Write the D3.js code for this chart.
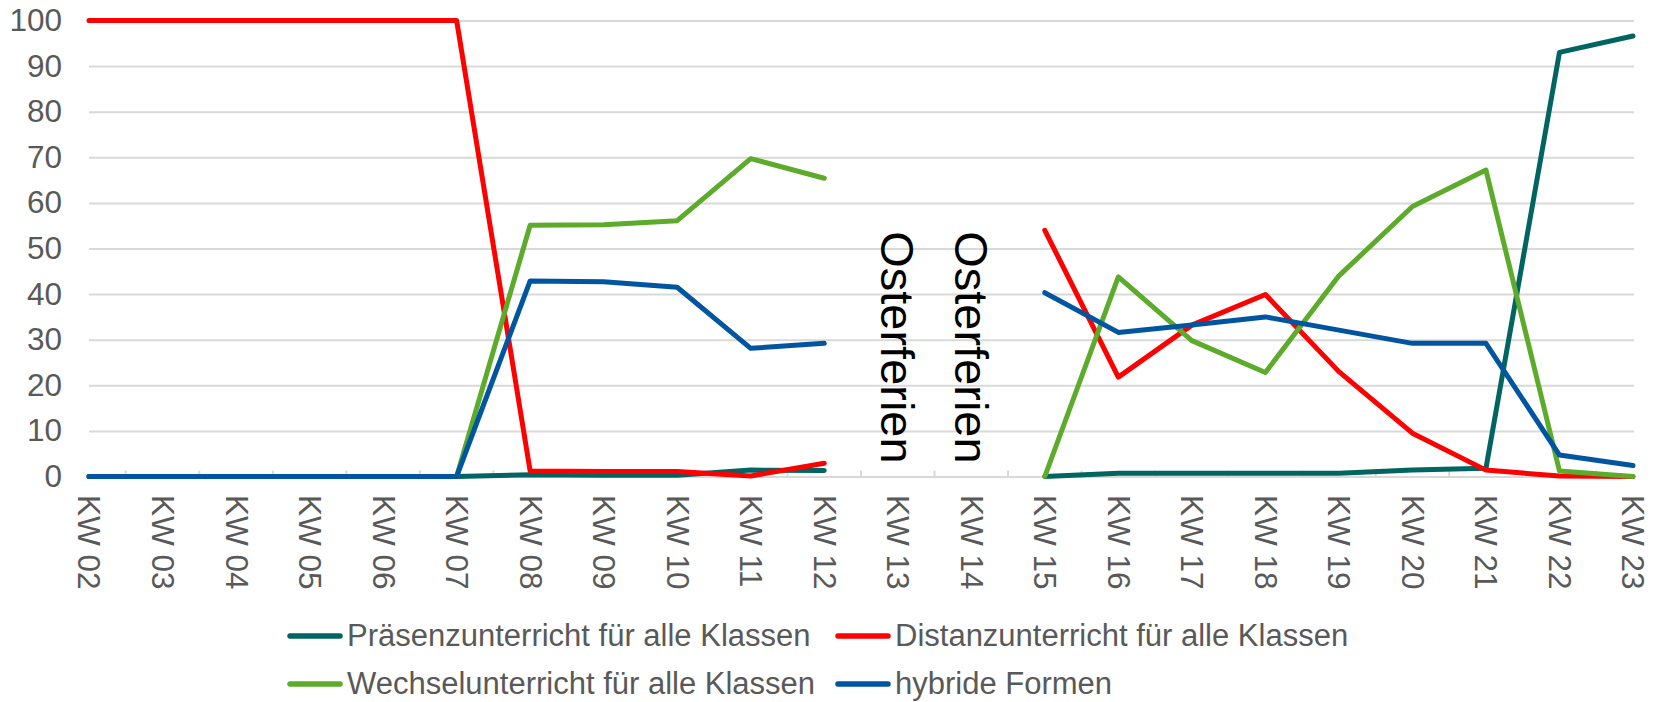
<!DOCTYPE html>
<html>
<head>
<meta charset="utf-8">
<script src="https://cdn.jsdelivr.net/npm/d3@7"></script>
<style>
    body { margin: 0; background: #fff; }
    svg text { font-family: "Liberation Sans", Arial, sans-serif; }
</style>
</head>
<body>
<svg id="chart" width="1659" height="702"></svg>
<script>
// Kalenderwochen
var weeks = ["KW 02", "KW 03", "KW 04", "KW 05", "KW 06", "KW 07", "KW 08", "KW 09",
    "KW 10", "KW 11", "KW 12", "KW 13", "KW 14", "KW 15", "KW 16", "KW 17",
    "KW 18", "KW 19", "KW 20", "KW 21", "KW 22", "KW 23"];

// Anteile in Prozent, null = Osterferien
var praesenz = [0, 0, 0, 0, 0, 0, 0.4, 0.3, 0.3, 1.4, 1.3, null, null,
    0, 0.7, 0.7, 0.7, 0.7, 1.4, 1.8, 93.0, 96.6];
var distanz = [100, 100, 100, 100, 100, 100, 1.2, 1.1, 1.1, 0.1, 2.9, null, null,
    54.0, 21.8, 33.2, 39.9, 23.0, 9.5, 1.4, 0.1, 0];
var wechsel = [0, 0, 0, 0, 0, 0, 55.1, 55.2, 56.1, 69.7, 65.4, null, null,
    0, 43.8, 29.8, 22.8, 44.0, 59.2, 67.2, 1.2, 0];
var hybrid = [0, 0, 0, 0, 0, 0, 42.9, 42.7, 41.5, 28.1, 29.2, null, null,
    40.3, 31.6, 33.2, 35.0, 32.1, 29.2, 29.2, 4.7, 2.4];

var seriesNames = ["Präsenzunterricht für alle Klassen", "Distanzunterricht für alle Klassen",
    "Wechselunterricht für alle Klassen", "hybride Formen"];
var seriesColors = ["#006461", "#FF0000", "#5CAB2B", "#0055A0"];
var seriesValues = [praesenz, distanz, wechsel, hybrid];

var yTicks = [0, 10, 20, 30, 40, 50, 60, 70, 80, 90, 100];

var holidayWeeks = ["KW 13", "KW 14"];
var holidayLabel = "Osterferien";

var svg = d3.select("#chart");

var x = d3.scalePoint().domain(weeks).range([89, 1633]);
var y = d3.scaleLinear().domain([0, 100]).range([476.5, 20.5]);

var plotLeft = x(weeks[0]);
var plotRight = x(weeks[weeks.length - 1]) + 1;

// Gitterlinien
svg.append("g")
    .attr("transform", "translate(" + plotLeft + ",0)")
    .call(d3.axisLeft(y).tickValues(yTicks).tickSize(-(plotRight - plotLeft)).tickFormat(""))
    .call(function(g) {
        g.select(".domain").remove();
        g.selectAll("line").attr("stroke", "#D9D9D9").attr("stroke-width", 2);
    });

// kleine Striche zwischen den Kategorien
var midpoints = weeks.slice(1).map(function(w, i) {
    return (x(weeks[i]) + x(w)) / 2;
});
svg.append("g").selectAll("line").data(midpoints).enter().append("line")
    .attr("x1", function(d) { return d; })
    .attr("x2", function(d) { return d; })
    .attr("y1", y(0) - 6)
    .attr("y2", y(0))
    .attr("stroke", "#D9D9D9")
    .attr("stroke-width", 2);

// y-Achse
svg.append("g")
    .attr("transform", "translate(62,0)")
    .call(d3.axisLeft(y).tickValues(yTicks).tickSize(0).tickPadding(0))
    .call(function(g) {
        g.select(".domain").remove();
        g.selectAll("text")
            .attr("fill", "#595959")
            .style("font-size", "31.5px")
            .style("font-family", "'Liberation Sans', Arial, sans-serif");
    });

// x-Achse (gedrehte Beschriftung)
svg.append("g")
    .attr("transform", "translate(0,495)")
    .call(d3.axisBottom(x).tickSize(0).tickPadding(0))
    .call(function(g) {
        g.select(".domain").remove();
        g.selectAll("text")
            .attr("x", 0)
            .attr("y", 0)
            .attr("dy", "0.35em")
            .attr("transform", "rotate(90)")
            .attr("text-anchor", "start")
            .attr("fill", "#595959")
            .style("font-size", "31.5px")
            .style("font-family", "'Liberation Sans', Arial, sans-serif");
    });

// Linien
var line = d3.line()
    .defined(function(d) { return d != null; })
    .x(function(d, i) { return x(weeks[i]); })
    .y(function(d) { return y(d); });

svg.append("g").selectAll("path").data(seriesValues).enter().append("path")
    .attr("d", line)
    .attr("fill", "none")
    .attr("stroke", function(d, i) { return seriesColors[i]; })
    .attr("stroke-width", 5)
    .attr("stroke-linejoin", "round")
    .attr("stroke-linecap", "round");

// Osterferien
svg.append("g").selectAll("text").data(holidayWeeks).enter().append("text")
    .attr("transform", function(d) {
        return "translate(" + x(d) + "," + y(53.8) + ") rotate(90)";
    })
    .attr("dy", "0.35em")
    .attr("fill", "#000")
    .style("font-size", "47px")
    .text(holidayLabel);

// Legende
var legendX = [287, 835];
var legendY = [636, 684];
var legend = svg.append("g").selectAll("g").data(seriesNames).enter().append("g")
    .attr("transform", function(d, i) {
        return "translate(" + legendX[i % 2] + "," + legendY[Math.floor(i / 2)] + ")";
    });
legend.append("line")
    .attr("x1", 3).attr("x2", 53)
    .attr("y1", 0).attr("y2", 0)
    .attr("stroke", function(d, i) { return seriesColors[i]; })
    .attr("stroke-width", 5.5)
    .attr("stroke-linecap", "round");
legend.append("text")
    .attr("x", 60)
    .attr("dy", "0.33em")
    .attr("fill", "#595959")
    .style("font-size", "31px")
    .text(function(d) { return d; });
</script>
</body>
</html>
